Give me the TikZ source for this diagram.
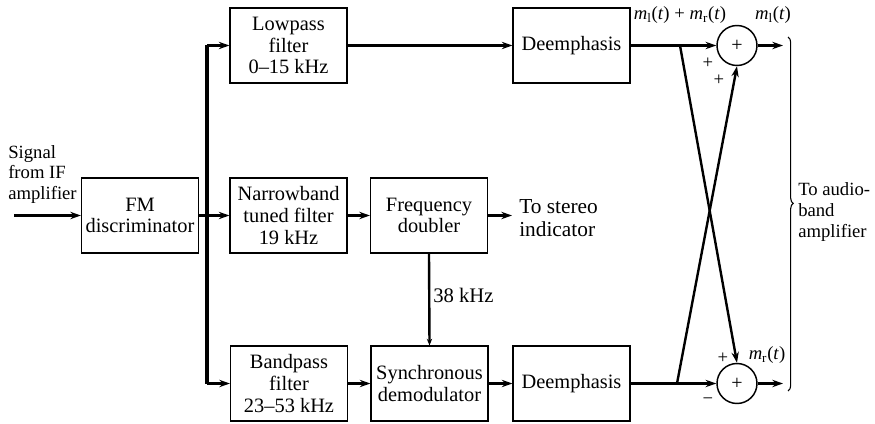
\documentclass[tikz,border=0pt]{standalone}
\usepackage{fontspec}
\setmainfont{LiberationSerif}[Extension=.ttf,UprightFont=*-Regular,
  ItalicFont=*-Italic,BoldFont=*-Bold,BoldItalicFont=*-BoldItalic]
\usetikzlibrary{arrows.meta,decorations.pathreplacing}
\newcommand\msig[1]{\textit{m}\textsubscript{#1}(\textit{t})}
\begin{document}
\begin{tikzpicture}[x=0.75pt,y=-0.75pt,
  blk/.style={draw,line width=1.1pt,inner sep=0pt,align=center,
    minimum width=87.5pt,minimum height=56pt,
    font=\fontsize{15.3}{16.2}\selectfont},
  sumnode/.style={draw,circle,line width=1.1pt,minimum size=30pt,inner sep=0pt,
    font=\fontsize{15}{16}\selectfont},
  lbl/.style={inner sep=0pt,align=left,font=\fontsize{14}{15.5}\selectfont},
  biglbl/.style={lbl,font=\fontsize{16}{17}\selectfont},
  sgn/.style={inner sep=0pt,font=\fontsize{14}{15}\selectfont},
  conn/.style={line width=1.8pt},
  arr/.style={conn,-{Stealth[length=8pt,width=5.5pt]}}]
\useasboundingbox (0,0) rectangle (875,424);

% blocks
\node[blk] (fm)  at (140,215.5) {FM\\discriminator};
\node[blk] (lp)  at (288.5,45.5) {Lowpass\\filter\\0–15 kHz};
\node[blk] (nb)  at (288.5,215.5) {Narrowband\\tuned filter\\19 kHz};
\node[blk] (bp)  at (289,383.5) {Bandpass\\filter\\23–53 kHz};
\node[blk] (fd)  at (429,215.5) {Frequency\\doubler};
\node[blk] (sd)  at (429.5,383.5) {Synchronous\\demodulator};
\node[blk] (de1) at (571.5,45.5) {Deemphasis};
\node[blk] (de2) at (571.5,383.5) {Deemphasis};

% summing junctions
\node[sumnode] (s1) at (737,45.5) {+};
\node[sumnode] (s2) at (737,383.5) {+};

% input
\coordinate (in) at (14,215.5);
\node[lbl,anchor=north west] (sig) at (8,145) {Signal\\from IF\\amplifier};
\draw[arr] (in) -- (fm.west);

% distribution bus
\coordinate (b1) at (207,45.5);
\coordinate (b2) at (207,215.5);
\coordinate (b3) at (207,383.5);
\draw[line width=2.4pt] (b1) -- (b3);
\draw[conn] (fm.east) -- (b2);
\draw[arr] (b1) -- (lp.west);
\draw[arr] (b2) -- (nb.west);
\draw[arr] (b3) -- (bp.west);

% signal paths
\draw[arr] (lp.east) -- (de1.west);
\draw[arr] (nb.east) -- (fd.west);
\draw[arr] (bp.east) -- (sd.west);
\draw[arr] (sd.east) -- (de2.west);
\coordinate (st) at (512,215.5);
\draw[arr] (fd.east) -- (st);
\node[biglbl,anchor=west] (stx) at (519,218) {To stereo\\indicator};
\draw[conn,-{Stealth[length=5pt,width=4pt]}] (fd.south) -- (sd.north);
\node[lbl,font=\fontsize{15.5}{16}\selectfont,anchor=west] (k38) at (433,295) {38 kHz};

% matrix
\coordinate (j1) at (680,45.5);
\coordinate (j2) at (677,383.5);
\draw[arr] (de1.east) -- (s1.west);
\draw[arr] (de2.east) -- (s2.west);
\draw[arr] (j1) -- (s2.north);
\draw[arr] (j2) -- (s1.south);

% outputs
\coordinate (o1) at (783,45.5);
\coordinate (o2) at (783,383.5);
\draw[arr] (s1.east) -- (o1);
\draw[arr] (s2.east) -- (o2);
\draw[line width=0.8pt,decorate,decoration={brace,amplitude=4pt,aspect=0.47}]
  (788,37) -- (788,391);
\node[lbl,anchor=west] (aud) at (798,212) {To audio-\\band\\amplifier};

% signal names and signs
\node[sgn] (msum) at (680,15) {\msig{l} + \msig{r}};
\node[sgn] (ml) at (773,15) {\msig{l}};
\node[sgn] (mr) at (767,355) {\msig{r}};
\node[sgn] (p1) at (708,63) {+};
\node[sgn] (p2) at (719,80) {+};
\node[sgn] (p3) at (723,358) {+};
\node[sgn] (m1) at (708,401) {−};
\end{tikzpicture}
\end{document}
